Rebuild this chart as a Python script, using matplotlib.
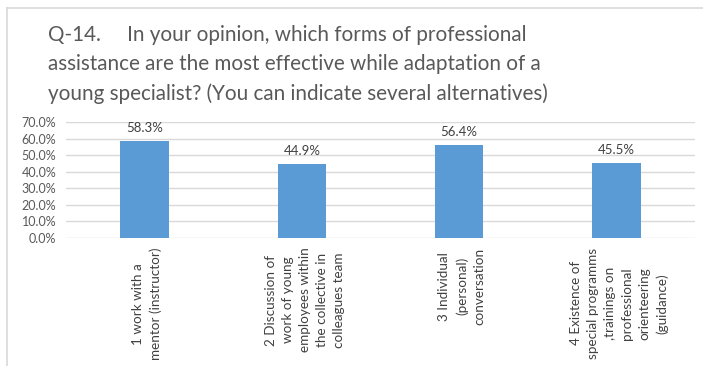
import matplotlib
matplotlib.use("Agg")
import matplotlib.pyplot as plt
from matplotlib.lines import Line2D

categories = [
    "1 work with a\nmentor (instructor)",
    "2 Discussion of\nwork of young\nemployees within\nthe collective in\ncolleagues team",
    "3 Individual\n(personal)\nconversation",
    "4 Existence of\nspecial programms\n,trainings on\nprofessional\norienteering\n(guidance)",
]
values = [58.3, 44.9, 56.4, 45.5]
yticks = [0, 10, 20, 30, 40, 50, 60, 70]
title = ("Q-14.     In your opinion, which forms of professional\n"
         "assistance are the most effective while adaptation of a\n"
         "young specialist? (You can indicate several alternatives)")

W, H = 703, 366
fig = plt.figure(figsize=(W / 100, H / 100), dpi=100)
plt.rcParams['font.family'] = ['Lato', 'DejaVu Sans']

ax = fig.add_axes([66 / W, 1 - 238 / H, (695 - 66) / W, (238 - 122) / H])
x = list(range(len(values)))
ax.bar(x, values, width=0.31, color="#5B9BD5", zorder=3)
ax.set_xlim(-0.5, len(values) - 0.5)
ax.set_ylim(0, 70)
ax.set_yticks(yticks)
ax.set_yticklabels([f"{t:.1f}%" for t in yticks], color="#595959", fontsize=9)
ax.tick_params(axis='y', length=0, pad=7)
ax.set_xticks([])
for s in ax.spines.values():
    s.set_visible(False)
ax.grid(axis='y', color="#D9D9D9", linewidth=1, zorder=0)

for xi, v in zip(x, values):
    ax.annotate(f"{v:.1f}%", (xi, v), xytext=(0, 5), textcoords="offset points",
                ha="center", va="bottom", fontsize=9.5, color="#404040")

for xi, lab in zip(x, categories):
    ax.annotate(lab, (xi, 0), xytext=(2, -7), textcoords="offset points",
                ha="center", va="top", rotation=90, multialignment="center",
                fontsize=9.7, color="#404040", linespacing=1.5)

fig.text(48 / W, 1 - 25 / H, title, ha="left", va="top", fontsize=14.9,
         color="#595959", linespacing=1.55)

fig.add_artist(Line2D([7.5 / W, 7.5 / W], [0, 1 - 7.5 / H], color="#D9D9D9", lw=1.2,
                      transform=fig.transFigure))
fig.add_artist(Line2D([7.5 / W, 1], [1 - 7.5 / H, 1 - 7.5 / H], color="#D9D9D9", lw=1.2,
                      transform=fig.transFigure))

fig.savefig("out.png", dpi=100)
